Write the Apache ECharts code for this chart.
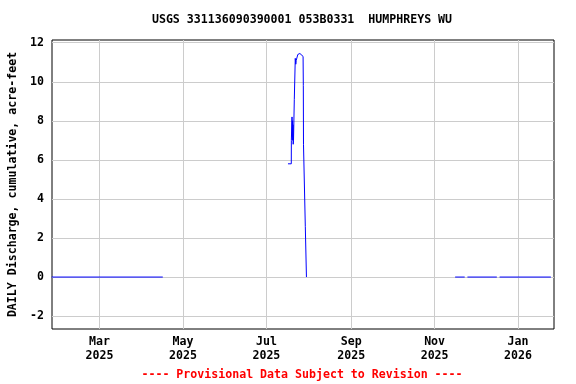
<!DOCTYPE html>
<html><head><meta charset="utf-8">
<script src="https://cdn.jsdelivr.net/npm/echarts@6/dist/echarts.min.js"></script>
<style>html,body{margin:0;padding:0;background:#fff}#c{width:576px;height:384px}</style>
</head><body><div id="c"></div>
<script>
const titleText = "USGS 331136090390001 053B0331  HUMPHREYS WU";
const yAxisTitle = "DAILY Discharge, cumulative, acre-feet";
const footerText = "---- Provisional Data Subject to Revision ----";
const xTickDates = ["2025-03-01","2025-05-01","2025-07-01","2025-09-01","2025-11-01","2026-01-01"];
const xTickLabels = ["Mar\n2025","May\n2025","Jul\n2025","Sep\n2025","Nov\n2025","Jan\n2026"];
const yTicks = [-2,0,2,4,6,8,10,12];
const xRange = ["2025-01-25T06:00","2026-01-27T07:00"];
const yRange = [-2.66, 12.14];

const flowTimes = [
  "2025-01-25T00:00","2025-04-16T06:00","2025-05-01T00:00",
  "2025-07-16T19:00","2025-07-19T05:00","2025-07-19T06:00","2025-07-19T16:00","2025-07-19T18:00",
  "2025-07-19T22:00","2025-07-20T02:00","2025-07-20T06:00","2025-07-20T10:00","2025-07-20T14:00",
  "2025-07-20T20:00","2025-07-21T10:00","2025-07-22T00:00","2025-07-22T03:00","2025-07-22T12:00",
  "2025-07-22T20:00","2025-07-23T12:00","2025-07-24T00:00","2025-07-25T12:00","2025-07-27T20:00",
  "2025-07-28T00:00","2025-07-28T03:00","2025-07-29T08:00","2025-07-29T11:00","2025-07-30T05:00",
  "2025-07-30T07:00","2025-09-01T00:00",
  "2025-11-16T00:00","2025-11-23T00:00","2025-11-24T00:00",
  "2025-11-25T00:00","2025-12-16T12:00","2025-12-17T12:00",
  "2025-12-18T12:00","2026-01-25T00:00"
];
const flowValues = [
  0,0,null,
  5.8,5.8,7.0,7.0,8.2,
  7.2,8.0,7.0,7.8,6.8,
  7.0,9.1,9.2,11.2,10.9,
  11.1,11.1,11.4,11.45,11.3,
  9.8,6.8,6.7,2.6,2.6,
  0,null,
  0,0,null,
  0,0,null,
  0,0
];

function ts(s){
  const [d,t='00:00'] = s.split('T');
  const [Y,M,D] = d.split('-').map(Number);
  const [h,m] = t.split(':').map(Number);
  return new Date(Y, M-1, D, h, m).getTime();
}
const FONT = 'DejaVu Sans Mono';
const FS = 11.6;
const xTickTs = xTickDates.map(ts);

const chart = echarts.init(document.getElementById('c'), null, {renderer:'canvas'});
chart.setOption({
  animation: false,
  backgroundColor: '#fff',
  grid: {left: 52, right: 22, top: 40, bottom: 55, show: true, borderColor: '#000', borderWidth: 1,
         backgroundColor: 'transparent', containLabel: false, outerBoundsMode: 'none'},
  graphic: [
    {type:'text', x: 302, y: 14, style:{text: titleText, font: `bold ${FS}px "${FONT}"`, fill:'#000', textAlign:'center'}},
    {type:'text', x: 302, y: 369, style:{text: footerText, font: `bold ${FS}px "${FONT}"`, fill:'#ff0000', textAlign:'center'}}
  ],
  xAxis: {
    type: 'value',
    min: ts(xRange[0]), max: ts(xRange[1]),
    axisLine: {show: false},
    axisTick: {show: false, customValues: xTickTs},
    splitLine: {show: true, lineStyle: {color: '#cccccc', width: 1}},
    axisLabel: {
      customValues: xTickTs,
      margin: 6, lineHeight: 14,
      fontFamily: FONT, fontWeight: 'bold', fontSize: FS, color: '#000',
      formatter: function(v){ const i = xTickTs.indexOf(v); return i >= 0 ? xTickLabels[i] : ''; }
    }
  },
  yAxis: {
    type: 'value',
    min: yRange[0], max: yRange[1],
    name: yAxisTitle, nameLocation: 'middle', nameGap: 33,
    nameTextStyle: {fontFamily: FONT, fontWeight: 'bold', fontSize: FS, color: '#000'},
    axisLine: {show: false},
    axisTick: {show: false, customValues: yTicks},
    splitLine: {show: true, lineStyle: {color: '#cccccc', width: 1}},
    axisLabel: {customValues: yTicks, margin: 8, fontFamily: FONT, fontWeight: 'bold', fontSize: FS, color: '#000'}
  },
  series: [{
    type: 'line',
    data: flowTimes.map((t,i) => [ts(t), flowValues[i] === null ? '-' : flowValues[i]]),
    showSymbol: false, symbol: 'none',
    connectNulls: false,
    lineStyle: {color: '#0000ff', width: 1},
    itemStyle: {color: '#0000ff'},
    clip: true
  }]
});
</script>
</body></html>
